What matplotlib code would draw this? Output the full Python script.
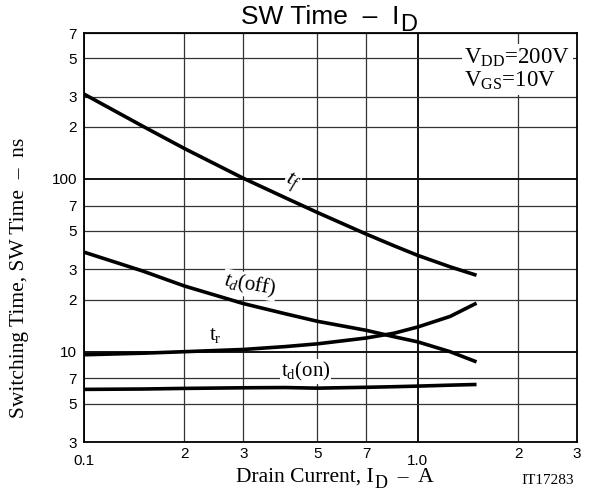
import numpy as np
import matplotlib
matplotlib.use("Agg")
import matplotlib.pyplot as plt
from matplotlib.ticker import FixedLocator, FixedFormatter

plt.rcParams['font.family'] = ['Liberation Sans', 'DejaVu Sans']
plt.rcParams['mathtext.fontset'] = 'custom'
plt.rcParams['mathtext.rm'] = 'Liberation Serif'
plt.rcParams['mathtext.it'] = 'Liberation Serif:italic'
plt.rcParams['mathtext.sf'] = 'Liberation Sans'

#%% data
current = [0.1, 0.15, 0.2, 0.3, 0.4, 0.5, 0.7, 0.85, 1.0, 1.25, 1.5]
t_f = [310, 202, 150, 101, 78, 64, 48, 41.0, 36.1, 31.0, 27.7]
t_d_off = [37.7, 29.3, 24.0, 19.0, 16.6, 15.0, 13.3, 12.2, 11.4, 10.0, 8.73]
t_r = [9.6, 9.8, 10.0, 10.3, 10.7, 11.1, 12.0, 12.8, 13.9, 16.0, 19.1]
t_d_on = [6.05, 6.08, 6.13, 6.18, 6.2, 6.15, 6.22, 6.27, 6.32, 6.4, 6.46]

x_major = [0.1, 1.0]
x_major_lab = ["0.1", "1.0"]
x_minor = [0.2, 0.3, 0.5, 0.7, 2, 3]
x_minor_lab = ["2", "3", "5", "7", "2", "3"]
y_major = [10, 100]
y_major_lab = ["10", "100"]
y_minor = [3, 5, 7, 20, 30, 50, 70, 200, 300, 500, 700]
y_minor_lab = ["3", "5", "7", "2", "3", "5", "7", "2", "3", "5", "7"]

#%%
fig = plt.figure(figsize=(6.04, 4.93), dpi=100)
ax = fig.add_axes([84/604, 51/493, 493/604, 409/493])
ax.set_xscale('log')
ax.set_yscale('log')
ax.set_xlim(0.1, 3)
ax.set_ylim(3, 700)

ax.xaxis.set_major_locator(FixedLocator(x_major))
ax.xaxis.set_major_formatter(FixedFormatter(x_major_lab))
ax.xaxis.set_minor_locator(FixedLocator(x_minor))
ax.xaxis.set_minor_formatter(FixedFormatter(x_minor_lab))
ax.yaxis.set_major_locator(FixedLocator(y_major))
ax.yaxis.set_major_formatter(FixedFormatter(y_major_lab))
ax.yaxis.set_minor_locator(FixedLocator(y_minor))
ax.yaxis.set_minor_formatter(FixedFormatter(y_minor_lab))

ax.tick_params(which='both', length=0, labelsize=11)
ax.tick_params(axis='x', which='major', pad=8.5)
ax.tick_params(axis='x', which='minor', pad=3.5)
ax.tick_params(axis='y', which='both', pad=5)

ax.grid(which='major', color='#111111', lw=1.4)
ax.grid(which='minor', color='#333333', lw=0.9)
ax.set_axisbelow(True)
for s in ax.spines.values():
    s.set_linewidth(1.3)
    s.set_color('black')

for ys in [t_f, t_d_off, t_r, t_d_on]:
    ax.plot(current, ys, color='black', lw=2.6, solid_capstyle='butt', zorder=3)

box = dict(facecolor='white', edgecolor='none', pad=0.5)
ax.text(0.42, 95, r"$t_f$", fontsize=16, ha='center', va='center', rotation=-22, bbox=box, zorder=4)
ax.text(0.314, 24.3, r"$t_d$(off)", fontsize=15, ha='center', va='center', rotation=-10,
        family='Liberation Serif', bbox=box, zorder=4)
ax.text(0.247, 12.4, r"t$_{\rm r}$", fontsize=15, ha='center', va='center',
        family='Liberation Serif', bbox=box, zorder=4)
ax.text(0.462, 7.67, r"t$_{\rm d}$(on)", fontsize=15, ha='center', va='center',
        family='Liberation Serif', bbox=box, zorder=4)

ax.text(1.38, 430, r"V$_{\rm DD}$=200V" "\n" r"V$_{\rm GS}$=10V", fontsize=16.5, ha='left', va='center',
        family='Liberation Serif', linespacing=1.05,
        bbox=dict(facecolor='white', edgecolor='none', pad=2), zorder=4)


def with_sub(x, y, main, sub, tail, size, sub_size, drop, **kw):
    # text with a large, lowered subscript, chained piece by piece
    t = fig.text(x, y, main, fontsize=size, ha='left', va='baseline', **kw)
    s = ax.annotate(sub, xy=(1, 0), xycoords=t, xytext=(0.5, -drop), textcoords='offset points',
                    fontsize=sub_size, ha='left', va='bottom', annotation_clip=False, **kw)
    if tail:
        ax.annotate(tail, xy=(1, 0), xycoords=s, xytext=(0, drop), textcoords='offset points',
                    fontsize=size, ha='left', va='bottom', annotation_clip=False, **kw)


with_sub(241/604, 1 - 24/493, "SW Time  –  I", "D", "", 19, 17, 5)
with_sub(236/604, 1 - 482/493, "Drain Current, I", "D", "  –  A", 15.5, 13, 3.5, family='Liberation Serif')
fig.text(20/604, 1 - 278/493, r"Switching Time, SW Time  –  ns", fontsize=15.5, ha='center', va='center',
         rotation=90, family='Liberation Serif')
fig.text(548/604, 1 - 481/493, "IT17283", fontsize=11, ha='center', va='center', family='Liberation Serif')

fig.savefig("out.png", dpi=100)
